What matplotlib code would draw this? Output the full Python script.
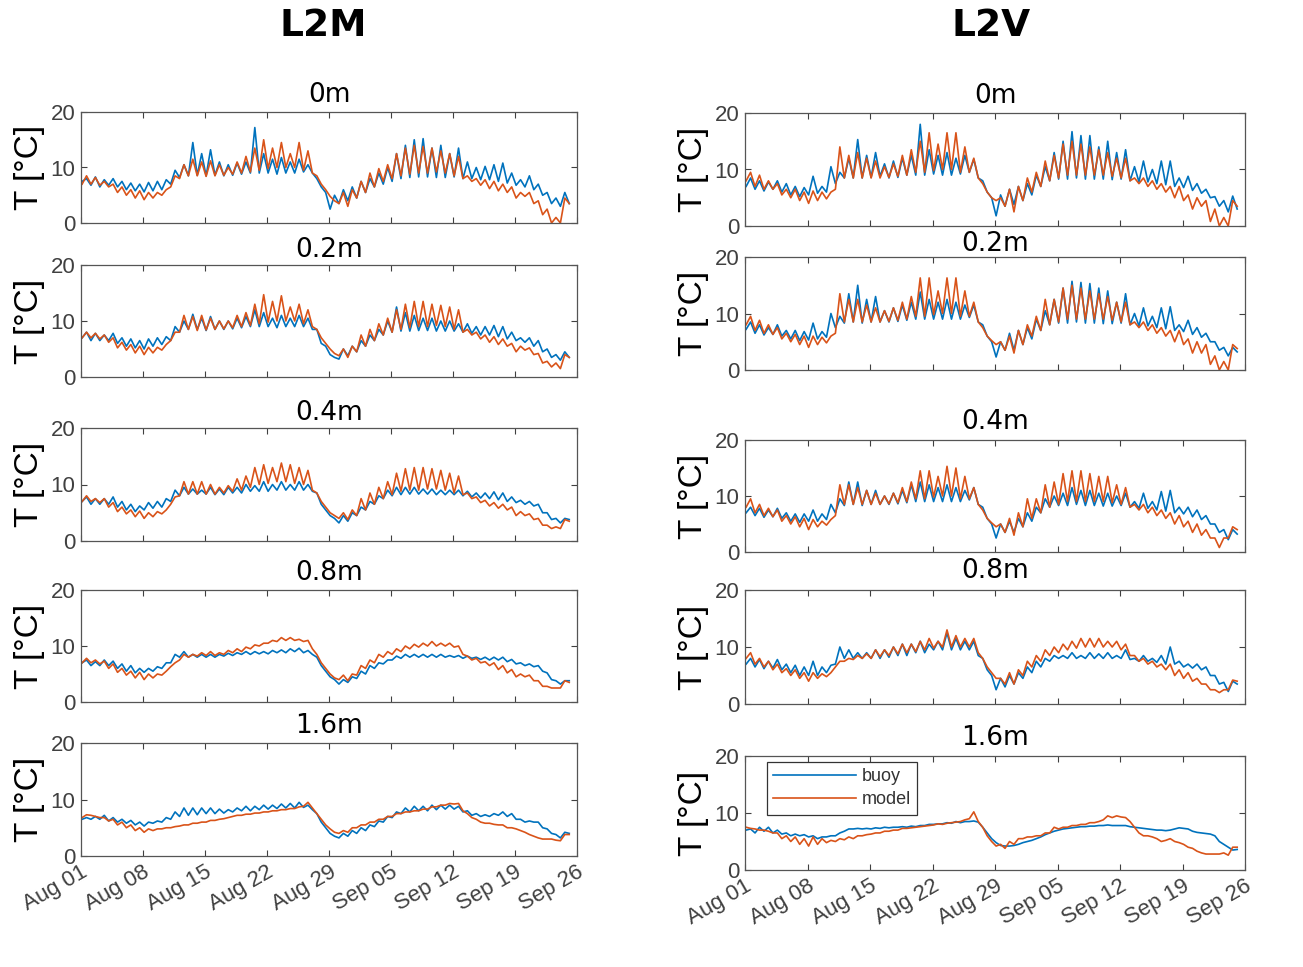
import matplotlib
matplotlib.use("Agg")
import matplotlib.pyplot as plt
import matplotlib.dates as mdates
import numpy as np
import pandas as pd

# time base: two readings per day (night low / afternoon high), Aug 01 -> Sep 25
times = pd.date_range("2020-08-01 03:00", periods=111, freq="12h")
depths = ["0m", "0.2m", "0.4m", "0.8m", "1.6m"]
stations = ["L2M", "L2V"]

# ---------------- L2M ----------------
l2m_buoy_0m = [7.5, 8.0, 6.8, 8.3, 6.5, 7.8, 6.8, 8.0, 6.5, 7.5, 6.0, 7.2, 5.8, 7.0, 5.6, 7.3,
               5.8, 7.5, 6.0, 7.8, 7.0, 9.5, 8.2, 10.5, 8.5, 14.5, 8.6, 12.5, 8.5, 13.2, 8.6, 11.0,
               8.5, 10.5, 8.6, 10.8, 8.8, 11.0, 9.0, 17.2, 9.0, 12.5, 9.0, 11.5, 8.8, 11.8, 9.0, 11.0,
               9.0, 11.5, 9.2, 10.5, 9.0, 8.0, 6.5, 5.5, 2.5, 5.0, 3.5, 6.0, 4.0, 6.5, 4.5, 7.5,
               5.5, 8.0, 6.5, 9.0, 7.0, 10.0, 7.5, 12.5, 8.0, 14.0, 8.2, 15.0, 8.3, 15.2, 8.3, 13.5,
               8.2, 14.0, 8.2, 12.5, 8.3, 13.5, 8.0, 11.0, 8.0, 10.0, 7.8, 10.2, 7.8, 10.5, 7.5, 10.8,
               7.2, 9.0, 6.8, 7.8, 6.5, 8.5, 6.0, 7.0, 5.0, 5.5, 3.5, 4.5, 3.0, 5.5, 3.5]
l2m_model_0m = [7.0, 8.5, 7.0, 8.2, 6.8, 7.5, 6.5, 7.0, 5.5, 6.5, 5.0, 6.0, 4.5, 5.8, 4.2, 5.5,
                4.5, 5.5, 5.0, 6.0, 6.5, 8.5, 8.0, 10.5, 8.5, 11.5, 8.5, 11.0, 8.4, 11.2, 8.5, 10.5,
                8.6, 10.0, 8.8, 11.0, 9.0, 12.0, 9.2, 13.5, 9.5, 15.0, 9.8, 13.5, 10.0, 14.5, 10.0, 12.5,
                10.0, 14.5, 9.5, 13.0, 9.0, 8.5, 7.0, 6.0, 4.8, 4.0, 3.5, 5.5, 3.0, 6.0, 4.5, 7.5,
                5.5, 9.0, 6.5, 9.8, 7.5, 10.5, 8.0, 12.5, 8.5, 13.5, 8.8, 14.0, 9.0, 13.8, 9.0, 13.5,
                9.2, 13.0, 9.0, 12.5, 8.5, 12.0, 8.0, 8.5, 7.5, 8.0, 6.8, 7.8, 6.2, 7.5, 5.8, 7.0,
                5.5, 6.5, 4.5, 5.5, 4.8, 5.5, 3.5, 4.0, 1.5, 2.5, 0.0, 1.0, 0.0, 4.5, 3.5]

l2m_buoy_02m = [7.0, 8.0, 6.5, 7.8, 6.5, 7.5, 6.5, 7.8, 6.0, 7.0, 5.5, 6.8, 5.2, 6.5, 5.0, 6.8,
                5.5, 7.0, 5.8, 7.2, 6.5, 9.0, 8.0, 10.0, 8.5, 11.2, 8.5, 10.5, 8.3, 10.8, 8.5, 10.0,
                8.5, 10.0, 8.6, 10.5, 8.8, 10.8, 9.0, 12.0, 9.0, 11.5, 9.0, 10.5, 8.8, 11.0, 9.0, 10.5,
                9.0, 11.0, 9.0, 10.5, 8.5, 8.5, 6.0, 5.5, 4.0, 3.5, 3.2, 5.0, 3.8, 5.5, 4.5, 6.5,
                5.5, 7.5, 6.5, 8.5, 7.5, 10.0, 8.0, 12.5, 8.2, 11.5, 8.2, 11.0, 8.3, 10.5, 8.3, 10.5,
                8.2, 10.0, 8.2, 10.0, 8.2, 9.5, 8.0, 9.5, 7.8, 9.0, 7.5, 9.0, 7.5, 9.2, 7.2, 9.0,
                6.8, 8.0, 6.5, 7.0, 6.2, 7.0, 5.5, 6.5, 4.5, 5.0, 3.5, 4.0, 3.0, 4.5, 3.5]
l2m_model_02m = [7.0, 8.0, 7.0, 7.8, 6.8, 7.5, 6.2, 7.0, 5.2, 6.2, 4.8, 5.8, 4.3, 5.5, 4.0, 5.3,
                 4.3, 5.3, 4.8, 5.8, 6.5, 8.0, 8.0, 11.0, 8.5, 10.8, 8.3, 11.0, 8.4, 10.5, 8.5, 10.0,
                 8.6, 10.0, 8.8, 11.0, 9.0, 11.5, 9.2, 13.0, 9.5, 14.7, 9.8, 13.5, 10.0, 14.5, 10.0, 12.5,
                 10.0, 13.0, 9.5, 12.0, 9.0, 8.5, 7.0, 6.0, 5.0, 4.2, 3.8, 5.0, 3.5, 5.5, 4.5, 7.5,
                 5.5, 8.5, 6.5, 9.5, 7.5, 10.5, 8.0, 12.0, 8.5, 13.0, 8.8, 13.5, 9.0, 13.5, 9.0, 13.0,
                 9.2, 12.8, 9.0, 12.5, 8.5, 12.0, 8.0, 8.5, 7.5, 8.0, 6.8, 7.5, 6.2, 7.2, 5.8, 6.8,
                 5.5, 6.0, 4.5, 5.5, 4.8, 5.2, 4.0, 4.2, 2.5, 2.8, 1.8, 2.5, 1.5, 4.0, 3.5]

l2m_buoy_04m = [7.0, 7.8, 6.5, 7.5, 6.5, 7.5, 6.5, 7.8, 6.0, 7.0, 5.5, 6.5, 5.2, 6.2, 5.5, 6.8,
                5.8, 7.0, 6.0, 7.5, 7.0, 9.0, 8.0, 9.5, 8.3, 9.2, 8.3, 9.0, 8.3, 9.5, 8.2, 9.2,
                8.2, 9.5, 8.5, 9.5, 8.5, 10.0, 8.8, 9.8, 8.8, 10.5, 8.8, 10.0, 9.0, 10.5, 9.0, 10.0,
                9.0, 10.5, 9.0, 10.0, 8.8, 8.5, 6.5, 5.5, 4.5, 4.0, 3.2, 4.5, 3.5, 5.0, 4.5, 6.0,
                5.5, 7.0, 6.5, 8.0, 7.5, 9.0, 8.0, 9.5, 8.2, 9.5, 8.3, 9.5, 8.3, 9.2, 8.3, 9.2,
                8.2, 9.0, 8.2, 9.0, 8.2, 9.0, 8.0, 8.8, 7.8, 8.5, 7.6, 8.5, 7.5, 8.7, 7.3, 8.5,
                7.0, 7.8, 6.8, 7.2, 6.5, 7.0, 6.2, 6.5, 5.0, 5.0, 3.8, 4.0, 3.2, 4.0, 3.8]
l2m_model_04m = [7.0, 8.0, 7.0, 7.5, 6.8, 7.5, 6.0, 6.8, 5.2, 6.0, 4.8, 5.5, 4.3, 5.3, 4.0, 5.0,
                 4.3, 5.2, 4.8, 5.5, 6.5, 7.8, 8.0, 10.5, 8.3, 10.5, 8.3, 10.5, 8.3, 10.0, 8.3, 9.5,
                 8.5, 9.8, 8.8, 11.0, 9.0, 11.5, 9.5, 13.0, 10.0, 13.5, 10.2, 13.0, 10.5, 13.8, 10.5, 13.5,
                 10.2, 13.0, 10.0, 12.5, 9.0, 8.5, 7.0, 6.0, 5.0, 4.5, 4.0, 5.0, 3.8, 5.5, 4.5, 7.5,
                 5.5, 8.5, 6.5, 9.5, 7.5, 10.5, 8.2, 12.0, 8.8, 12.8, 9.0, 13.0, 9.0, 13.0, 9.2, 12.8,
                 9.2, 12.5, 9.0, 12.0, 8.5, 11.5, 8.2, 8.5, 7.5, 7.8, 6.8, 7.2, 6.2, 6.8, 5.8, 6.5,
                 5.5, 6.0, 4.5, 5.2, 4.5, 4.8, 3.8, 4.0, 2.8, 2.8, 2.2, 2.5, 2.2, 3.8, 3.5]

l2m_buoy_08m = [7.0, 7.5, 6.5, 7.2, 6.5, 7.5, 6.5, 7.3, 6.0, 6.8, 5.5, 6.5, 5.2, 6.0, 5.3, 6.0,
                5.5, 6.3, 6.0, 7.0, 7.0, 8.5, 8.0, 9.0, 8.0, 8.5, 8.0, 8.5, 8.0, 8.5, 8.0, 8.5,
                8.2, 8.7, 8.3, 8.8, 8.5, 9.0, 8.5, 9.0, 8.6, 9.0, 8.6, 9.2, 8.8, 9.3, 8.8, 9.5,
                9.0, 9.6, 8.8, 9.2, 8.5, 8.0, 6.5, 5.5, 4.5, 4.0, 3.2, 4.0, 3.5, 4.5, 4.2, 5.5,
                5.0, 6.5, 6.0, 7.0, 6.8, 7.5, 7.5, 8.2, 7.8, 8.5, 8.0, 8.5, 8.0, 8.5, 8.0, 8.5,
                8.0, 8.5, 8.0, 8.3, 8.0, 8.3, 7.8, 8.2, 7.8, 8.0, 7.6, 8.0, 7.5, 8.0, 7.5, 8.0,
                7.2, 7.6, 6.8, 7.0, 6.5, 6.8, 6.3, 6.5, 5.5, 5.2, 4.0, 3.8, 3.2, 3.8, 3.8]
l2m_model_08m = [7.0, 7.8, 7.0, 7.5, 6.8, 7.3, 6.0, 6.8, 5.3, 6.0, 4.8, 5.5, 4.3, 5.3, 4.0, 5.0,
                 4.3, 5.0, 4.8, 5.5, 6.3, 7.0, 7.5, 8.5, 8.0, 8.5, 8.2, 8.8, 8.3, 9.0, 8.3, 8.8,
                 8.5, 9.2, 8.8, 9.5, 9.0, 9.8, 9.5, 10.2, 10.0, 10.5, 10.5, 11.0, 10.8, 11.5, 11.0, 11.5,
                 11.0, 11.2, 10.8, 11.0, 9.5, 8.5, 7.0, 6.0, 5.0, 4.3, 4.0, 4.8, 3.8, 5.0, 4.8, 6.5,
                 6.0, 7.5, 7.0, 8.5, 8.0, 9.0, 8.5, 9.5, 9.0, 10.0, 9.5, 10.3, 9.8, 10.5, 10.0, 10.8,
                 10.0, 10.5, 10.0, 10.5, 9.8, 10.0, 8.5, 8.2, 7.5, 7.8, 7.0, 7.2, 6.5, 7.0, 5.8, 6.5,
                 5.2, 5.8, 4.5, 5.0, 4.5, 4.8, 3.8, 3.8, 2.8, 2.8, 2.5, 2.5, 2.5, 3.8, 3.5]

l2m_buoy_16m = [6.5, 6.8, 6.5, 7.0, 6.5, 7.2, 6.2, 6.8, 6.0, 6.5, 5.8, 6.3, 5.5, 6.0, 5.3, 6.0,
                5.8, 6.2, 6.0, 6.8, 6.5, 7.8, 7.0, 8.5, 7.2, 8.5, 7.3, 8.5, 7.5, 8.5, 7.5, 8.3,
                7.6, 8.2, 7.8, 8.5, 8.0, 8.8, 8.0, 8.8, 8.2, 9.0, 8.3, 9.0, 8.4, 9.2, 8.5, 9.3,
                8.5, 9.5, 8.6, 9.0, 8.2, 7.5, 6.0, 5.0, 4.0, 3.5, 3.2, 4.0, 3.5, 4.5, 4.0, 5.0,
                4.5, 5.5, 5.2, 6.2, 6.0, 7.0, 6.8, 7.8, 7.5, 8.5, 7.8, 8.8, 8.0, 8.8, 8.0, 9.0,
                8.2, 9.0, 8.3, 9.0, 8.3, 8.8, 7.8, 8.0, 7.2, 7.5, 7.0, 7.3, 7.0, 7.5, 7.2, 7.8,
                7.0, 7.5, 6.5, 6.5, 6.0, 6.2, 6.0, 6.0, 5.0, 4.8, 4.0, 3.8, 3.2, 4.2, 4.0]
l2m_model_16m = [6.8, 7.3, 7.2, 7.0, 6.8, 6.8, 6.2, 6.5, 5.5, 6.0, 5.0, 5.5, 4.5, 5.0, 4.2, 4.8,
                 4.5, 4.8, 4.8, 5.0, 5.0, 5.2, 5.3, 5.5, 5.5, 5.8, 5.8, 6.0, 6.0, 6.3, 6.3, 6.5,
                 6.6, 6.8, 7.0, 7.2, 7.2, 7.4, 7.4, 7.6, 7.6, 7.8, 7.8, 8.0, 8.0, 8.2, 8.2, 8.4,
                 8.4, 8.7, 8.8, 9.5, 8.5, 7.5, 6.5, 5.5, 4.8, 4.2, 4.0, 4.5, 4.2, 5.0, 5.0, 5.5,
                 5.5, 6.0, 6.0, 6.5, 6.5, 7.0, 7.0, 7.5, 7.5, 7.8, 7.8, 8.0, 8.0, 8.3, 8.3, 8.7,
                 8.7, 9.0, 9.0, 9.3, 9.2, 9.3, 8.0, 7.5, 6.8, 6.5, 6.0, 5.8, 5.8, 5.6, 5.5, 5.5,
                 5.0, 5.0, 4.8, 4.5, 4.2, 3.8, 3.5, 3.2, 3.0, 3.0, 3.0, 2.8, 2.7, 3.8, 3.8]

# ---------------- L2V ----------------
l2v_buoy_0m = [7.0, 8.5, 6.5, 8.0, 6.2, 7.8, 6.5, 8.0, 6.0, 7.5, 5.5, 7.0, 5.2, 6.8, 5.5, 8.8,
               5.8, 7.0, 6.0, 10.5, 7.5, 9.5, 8.5, 12.0, 8.5, 15.3, 8.5, 12.5, 8.6, 13.0, 8.8, 11.0,
               8.5, 11.5, 8.6, 12.0, 9.0, 12.5, 9.0, 18.0, 9.0, 13.5, 9.2, 12.5, 9.0, 13.0, 9.0, 12.0,
               9.2, 12.5, 9.5, 11.8, 8.5, 8.0, 6.0, 5.0, 1.8, 5.5, 3.5, 6.5, 3.8, 7.0, 4.5, 7.5,
               5.5, 9.0, 7.0, 10.5, 8.0, 13.0, 8.3, 15.0, 8.3, 16.7, 8.5, 16.0, 8.3, 16.0, 8.3, 14.0,
               8.3, 15.0, 8.2, 13.0, 8.3, 13.5, 8.0, 10.5, 7.8, 11.5, 7.8, 10.0, 7.5, 11.5, 7.3, 11.5,
               7.0, 8.5, 6.8, 8.8, 6.3, 7.5, 5.8, 6.5, 5.0, 5.2, 3.5, 4.5, 2.5, 5.3, 3.0]
l2v_model_0m = [8.0, 9.5, 7.0, 9.0, 6.5, 8.0, 6.5, 7.5, 5.5, 6.5, 5.0, 6.5, 4.5, 6.0, 4.0, 6.2,
                4.5, 6.0, 4.8, 6.0, 6.5, 14.0, 8.5, 12.5, 8.5, 13.0, 8.5, 12.0, 8.5, 11.5, 8.5, 10.5,
                8.6, 11.0, 8.8, 12.5, 9.0, 13.5, 9.5, 15.0, 9.5, 16.5, 9.8, 14.5, 10.0, 16.5, 10.0, 16.5,
                9.5, 14.0, 9.5, 12.0, 8.5, 7.5, 6.0, 5.0, 4.5, 5.0, 3.5, 6.5, 2.5, 7.0, 4.5, 8.5,
                6.0, 9.5, 7.0, 11.5, 8.0, 12.5, 8.5, 14.5, 9.0, 15.0, 9.0, 14.5, 9.0, 14.0, 9.0, 13.5,
                9.0, 13.0, 8.8, 12.0, 8.5, 12.0, 8.0, 8.5, 7.5, 8.5, 7.0, 8.0, 6.5, 7.5, 6.0, 7.0,
                5.0, 7.0, 4.5, 5.5, 3.0, 5.0, 3.5, 4.5, 0.8, 3.0, 0.0, 1.5, 0.0, 4.5, 3.5]

l2v_buoy_02m = [7.2, 8.5, 6.5, 8.0, 6.2, 7.5, 6.3, 8.0, 6.0, 7.0, 5.5, 7.0, 5.2, 6.8, 5.3, 8.3,
                5.5, 6.8, 5.8, 10.0, 7.5, 9.5, 8.3, 13.5, 8.5, 15.0, 8.3, 12.5, 8.5, 13.0, 8.5, 10.5,
                8.5, 11.0, 8.6, 11.5, 8.8, 12.0, 9.0, 13.8, 9.0, 12.5, 9.0, 12.0, 9.0, 12.5, 9.0, 12.0,
                9.0, 11.5, 9.3, 11.5, 8.5, 8.0, 6.0, 5.0, 2.3, 5.0, 3.5, 6.5, 3.5, 7.0, 4.5, 7.5,
                5.5, 9.0, 7.0, 10.5, 8.0, 12.5, 8.3, 14.5, 8.3, 15.7, 8.5, 15.5, 8.3, 15.3, 8.3, 14.5,
                8.2, 14.0, 8.2, 12.0, 8.3, 13.5, 8.0, 10.0, 7.8, 11.0, 7.8, 9.5, 7.5, 11.0, 7.3, 11.2,
                7.0, 8.0, 6.8, 8.8, 6.3, 7.5, 5.8, 6.5, 5.0, 5.0, 3.5, 4.0, 2.5, 4.0, 3.2]
l2v_model_02m = [8.0, 9.5, 7.0, 8.8, 6.5, 8.0, 6.3, 7.5, 5.5, 6.5, 5.0, 6.3, 4.5, 6.0, 4.0, 6.0,
                 4.5, 5.8, 4.8, 6.0, 6.5, 13.5, 8.5, 12.5, 8.5, 12.5, 8.5, 11.5, 8.5, 11.0, 8.5, 10.5,
                 8.6, 11.0, 8.8, 12.0, 9.0, 13.0, 9.5, 16.3, 9.5, 16.3, 9.8, 14.0, 10.0, 16.3, 10.0, 16.3,
                 9.5, 14.0, 9.5, 12.0, 8.5, 7.5, 6.0, 5.2, 4.5, 5.0, 3.5, 6.0, 3.0, 7.0, 4.5, 8.0,
                 6.0, 9.5, 7.0, 12.5, 8.0, 12.5, 8.5, 14.5, 9.0, 15.0, 9.0, 14.5, 9.0, 14.0, 9.0, 13.5,
                 9.0, 13.0, 8.8, 12.0, 8.5, 12.0, 8.0, 8.5, 7.5, 8.5, 7.0, 8.0, 6.5, 7.5, 6.0, 7.0,
                 5.0, 7.0, 4.5, 5.5, 3.0, 5.0, 3.0, 4.5, 1.0, 2.5, 0.0, 1.5, 0.0, 4.5, 3.8]

l2v_buoy_04m = [7.0, 8.0, 6.5, 7.8, 6.2, 7.5, 6.3, 7.8, 6.0, 7.0, 5.5, 6.8, 5.3, 6.8, 5.5, 7.5,
                5.5, 6.8, 5.8, 8.5, 7.0, 9.5, 8.3, 12.5, 8.5, 12.5, 8.3, 11.0, 8.5, 11.0, 8.5, 10.0,
                8.5, 10.5, 8.6, 11.0, 8.8, 12.0, 9.0, 12.5, 9.0, 12.0, 9.0, 11.5, 9.0, 12.0, 9.0, 11.5,
                9.0, 11.0, 9.3, 11.5, 8.5, 8.0, 6.0, 5.0, 2.5, 5.0, 3.5, 5.5, 3.5, 6.0, 4.5, 7.0,
                5.5, 8.0, 7.0, 9.5, 8.0, 10.0, 8.3, 10.5, 8.3, 11.5, 8.5, 11.0, 8.3, 11.0, 8.3, 10.5,
                8.2, 10.5, 8.2, 10.0, 8.3, 10.5, 8.0, 9.0, 7.8, 10.5, 7.8, 9.0, 7.5, 10.8, 7.3, 11.0,
                7.0, 8.0, 6.8, 8.0, 6.3, 7.5, 5.8, 6.5, 5.0, 5.0, 3.5, 4.0, 2.2, 4.0, 3.2]
l2v_model_04m = [8.0, 9.5, 7.0, 8.5, 6.5, 7.8, 6.3, 7.5, 5.5, 6.5, 5.0, 6.3, 4.5, 6.0, 4.0, 5.8,
                 4.5, 5.5, 4.8, 5.8, 6.5, 12.0, 8.5, 12.0, 8.5, 11.5, 8.5, 11.0, 8.5, 10.5, 8.5, 10.0,
                 8.6, 10.5, 8.8, 11.5, 9.0, 12.5, 9.5, 14.5, 9.5, 14.5, 9.8, 13.5, 10.0, 15.3, 10.0, 15.0,
                 9.5, 13.5, 9.5, 11.5, 8.5, 7.5, 6.0, 5.2, 4.5, 5.0, 3.5, 6.0, 3.0, 7.0, 4.5, 9.5,
                 6.0, 9.5, 7.0, 12.0, 8.0, 12.5, 8.5, 14.0, 9.0, 14.5, 9.0, 14.5, 9.0, 14.0, 9.0, 13.5,
                 9.0, 13.5, 8.8, 12.0, 8.5, 11.5, 8.0, 8.5, 7.5, 8.5, 7.0, 8.0, 6.5, 7.5, 6.0, 7.0,
                 5.0, 6.5, 4.5, 5.5, 3.5, 5.0, 3.0, 4.0, 2.5, 2.5, 0.8, 2.5, 2.5, 4.5, 4.0]

l2v_buoy_08m = [7.0, 8.0, 6.5, 7.8, 6.2, 7.5, 6.3, 7.8, 6.0, 7.0, 5.5, 6.8, 5.0, 6.5, 5.0, 7.5,
                5.0, 6.5, 5.5, 6.8, 7.0, 10.0, 8.0, 9.5, 8.0, 9.0, 8.0, 9.0, 8.0, 9.5, 8.0, 9.5,
                8.2, 10.0, 8.5, 10.5, 8.5, 10.5, 9.0, 11.0, 9.0, 10.5, 9.5, 11.0, 9.5, 12.5, 9.5, 11.5,
                9.5, 11.0, 9.5, 11.0, 8.5, 8.0, 6.0, 5.0, 2.5, 4.5, 3.0, 5.0, 3.5, 5.5, 4.5, 6.5,
                5.5, 7.5, 6.5, 8.0, 7.5, 8.5, 8.0, 8.5, 8.0, 9.0, 8.0, 8.5, 8.0, 9.0, 8.0, 8.8,
                8.0, 9.0, 8.0, 8.5, 8.0, 9.5, 7.8, 8.0, 7.5, 8.5, 7.5, 8.0, 7.3, 8.5, 7.0, 10.0,
                7.0, 7.5, 6.5, 7.0, 6.3, 7.0, 6.0, 6.5, 5.0, 5.0, 3.5, 3.8, 2.2, 4.0, 3.5]
l2v_model_08m = [8.0, 9.0, 7.0, 8.0, 6.5, 7.5, 6.0, 7.0, 5.5, 6.2, 5.0, 6.0, 4.5, 5.5, 4.0, 5.5,
                 4.5, 5.3, 4.8, 5.5, 6.5, 7.5, 7.5, 8.0, 7.8, 8.5, 8.0, 8.8, 8.0, 9.5, 8.3, 9.5,
                 8.5, 10.0, 8.8, 10.5, 9.0, 10.5, 9.2, 11.0, 9.5, 11.5, 9.8, 11.0, 10.0, 13.0, 10.0, 12.0,
                 10.0, 11.5, 10.0, 11.5, 9.0, 8.0, 6.5, 5.5, 4.5, 4.5, 3.5, 5.5, 3.5, 6.0, 5.0, 7.5,
                 6.5, 8.5, 7.5, 9.5, 8.5, 10.0, 9.0, 10.5, 9.5, 11.0, 9.8, 11.5, 10.0, 11.5, 10.0, 11.5,
                 10.0, 11.0, 10.0, 11.0, 9.5, 10.5, 8.5, 8.5, 7.5, 8.0, 7.0, 7.5, 6.5, 7.0, 6.0, 7.0,
                 5.0, 6.0, 4.5, 5.5, 4.0, 4.5, 3.5, 3.5, 2.5, 2.5, 2.0, 2.5, 2.5, 4.2, 4.0]

l2v_buoy_16m = [7.0, 7.2, 6.5, 7.5, 6.8, 7.5, 6.5, 7.0, 6.3, 6.5, 6.0, 6.3, 6.0, 6.2, 5.8, 6.0,
                5.5, 5.8, 5.8, 6.0, 6.0, 6.5, 6.8, 7.2, 7.2, 7.3, 7.2, 7.3, 7.2, 7.4, 7.3, 7.5,
                7.4, 7.5, 7.5, 7.6, 7.5, 7.7, 7.6, 7.8, 7.8, 8.0, 8.0, 8.1, 8.1, 8.3, 8.2, 8.5,
                8.3, 8.5, 8.5, 8.6, 8.4, 7.5, 6.5, 5.5, 4.8, 4.3, 4.2, 4.2, 4.3, 4.5, 4.8, 5.0,
                5.2, 5.5, 5.8, 6.2, 6.5, 6.8, 7.0, 7.2, 7.3, 7.4, 7.5, 7.6, 7.6, 7.7, 7.7, 7.8,
                7.8, 7.9, 7.8, 7.8, 7.8, 7.8, 7.6, 7.5, 7.4, 7.3, 7.2, 7.1, 7.0, 7.0, 6.9, 7.0,
                7.2, 7.4, 7.3, 7.2, 6.8, 6.6, 6.5, 6.4, 6.3, 6.0, 5.0, 4.5, 4.0, 3.5, 3.6]
l2v_model_16m = [7.5, 7.3, 7.2, 7.0, 7.0, 6.8, 6.5, 6.5, 5.5, 6.0, 5.0, 5.8, 4.5, 5.5, 4.2, 5.8,
                 4.5, 5.5, 4.8, 5.2, 5.0, 5.5, 5.3, 5.8, 5.5, 6.0, 6.0, 6.2, 6.3, 6.5, 6.5, 6.8,
                 6.8, 7.0, 7.0, 7.3, 7.3, 7.4, 7.5, 7.6, 7.7, 7.8, 7.9, 8.1, 8.0, 8.2, 8.3, 8.4,
                 8.5, 8.8, 9.0, 10.2, 8.5, 7.5, 6.0, 5.0, 4.2, 4.5, 3.8, 5.0, 4.5, 5.5, 5.5, 5.8,
                 5.8, 6.0, 6.0, 6.5, 6.5, 7.5, 7.2, 7.5, 7.5, 7.8, 7.8, 8.0, 8.0, 8.3, 8.3, 8.5,
                 8.8, 9.5, 9.2, 9.5, 9.3, 9.2, 8.5, 7.5, 6.5, 6.0, 6.0, 5.8, 5.5, 5.0, 5.2, 5.5,
                 5.0, 4.8, 4.5, 4.0, 3.8, 3.3, 3.0, 2.8, 2.8, 2.8, 2.8, 3.0, 2.6, 4.0, 4.0]

buoy_series = [
    [l2m_buoy_0m, l2m_buoy_02m, l2m_buoy_04m, l2m_buoy_08m, l2m_buoy_16m],
    [l2v_buoy_0m, l2v_buoy_02m, l2v_buoy_04m, l2v_buoy_08m, l2v_buoy_16m],
]
model_series = [
    [l2m_model_0m, l2m_model_02m, l2m_model_04m, l2m_model_08m, l2m_model_16m],
    [l2v_model_0m, l2v_model_02m, l2v_model_04m, l2v_model_08m, l2v_model_16m],
]

BLUE = "#0072BD"
ORANGE = "#D95319"
W, H = 1303, 967
ARIAL = "Liberation Sans"

# axes boxes in pixels (left, top, right, bottom) -- the two columns are not aligned
boxes = [
    [(81, 112, 577, 223), (81, 265, 577, 377), (81, 428, 577, 541),
     (81, 590, 577, 702), (81, 743, 577, 856)],
    [(745, 113, 1245, 226), (745, 257, 1245, 370), (745, 440, 1245, 552),
     (745, 590, 1245, 704), (745, 756, 1245, 870)],
]
title_pads = [[7, 6, 6, 7, 7], [7, 3, 8, 9, 8]]

fig = plt.figure(figsize=(W / 100, H / 100), dpi=100)
fig.patch.set_facecolor("white")

xmin = pd.Timestamp("2020-08-01")
xmax = pd.Timestamp("2020-09-26")
xticks = pd.date_range(xmin, xmax, freq="7D")

for c, station in enumerate(stations):
    for r, depth in enumerate(depths):
        l, t, rr, b = boxes[c][r]
        ax = fig.add_axes([l / W, 1 - b / H, (rr - l) / W, (b - t) / H])
        ax.plot(times, buoy_series[c][r], color=BLUE, lw=1.2, label="buoy")
        ax.plot(times, model_series[c][r], color=ORANGE, lw=1.2, label="model")
        ax.set_xlim(xmin, xmax)
        ax.set_ylim(0, 20)
        ax.set_yticks([0, 10, 20])
        ax.set_xticks(xticks)
        ax.tick_params(direction="in", length=4, width=0.8, top=True, right=True,
                       colors="#404040", labelsize=16, pad=4)
        for lab in ax.get_yticklabels():
            lab.set_family(ARIAL)
        for s in ax.spines.values():
            s.set_color("#555555")
            s.set_linewidth(0.9)
        if r == 4:
            ax.xaxis.set_major_formatter(mdates.DateFormatter("%b %d"))
            for lab in ax.get_xticklabels():
                lab.set_rotation(30)
                lab.set_ha("right")
                lab.set_rotation_mode("anchor")
                lab.set_fontsize(16)
                lab.set_family(ARIAL)
        else:
            ax.set_xticklabels([])
        ax.set_title(depth, fontsize=19, pad=title_pads[c][r])
        ax.set_ylabel("T [°C]", fontsize=24, family=ARIAL, labelpad=4)
        if c == 1 and r == 4:
            leg = ax.legend(loc="upper left", bbox_to_anchor=(0.044, 0.95), borderaxespad=0,
                            prop={"family": ARIAL, "size": 13}, handlelength=4.6,
                            fancybox=False, edgecolor="#333333", framealpha=1,
                            borderpad=0.35, labelspacing=0.35, handletextpad=0.3)
            leg.get_frame().set_linewidth(0.9)
            for txt in leg.get_texts():
                txt.set_color("#333333")

fig.text(323 / W, 1 - 26 / H, "L2M", fontsize=27, fontweight="bold", ha="center", va="center")
fig.text(991 / W, 1 - 26 / H, "L2V", fontsize=27, fontweight="bold", ha="center", va="center")

fig.savefig("out.png", dpi=100)
